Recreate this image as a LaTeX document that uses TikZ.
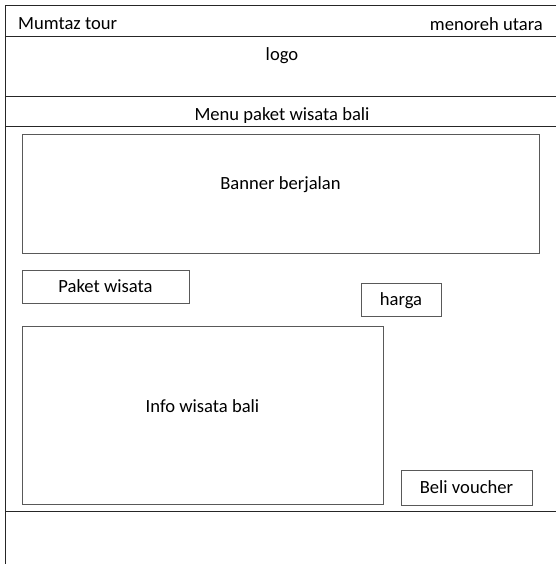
\documentclass[tikz,border=0pt]{standalone}
\usepackage{fontspec}
\setmainfont{Carlito}
\usepackage{tikz}
\usetikzlibrary{positioning}

\begin{document}
\begin{tikzpicture}[
      x=1pt, y=-1pt,
      box/.style={
        rectangle,
        draw=black!65,
        line width=1pt,
        inner sep=0pt,
        text depth=0pt,
        font=\fontsize{18.6}{21}\selectfont
      },
      rule/.style={
        draw=black!85,
        line width=1pt
      },
      caption/.style={
        font=\fontsize{18.6}{21}\selectfont,
        inner sep=0pt
      }
    ]
    \useasboundingbox (0,0) rectangle (556,564);

    % Page frame
    \draw [rule] (556,6) -- (5,6) -- (5,564);
    \draw [rule] (5,37) -- (556,37);
    \draw [rule] (5,97) -- (556,97);
    \draw [rule] (5,127) -- (556,127);
    \draw [rule] (5,511) -- (556,511);

    % Header texts
    \node (mumtaz) [caption, anchor=west] at (18,24) {Mumtaz tour};
    \node (menoreh) [caption, anchor=east] at (543,24) {menoreh utara};
    \node (logo) [caption] at (282,56) {logo};
    \node (menu) [caption] at (282,116) {Menu paket wisata bali};

    % Content boxes
    \node (banner) [box, minimum width=517, minimum height=118,
      label={[caption, yshift=9pt]center:Banner berjalan}] at (280.5,194) {};
    \node (paket) [box, minimum width=167, minimum height=33] at (105.5,286.5) {Paket wisata};
    \node (harga) [box, minimum width=80, minimum height=33] at (401,299.5) {harga};
    \node (info) [box, minimum width=361, minimum height=178,
      label={[caption, yshift=9pt]center:Info wisata bali}] at (202.5,415) {};
    \node (beli) [box, minimum width=131, minimum height=35] at (466.5,487.5) {Beli voucher};

\end{tikzpicture}
\end{document}
